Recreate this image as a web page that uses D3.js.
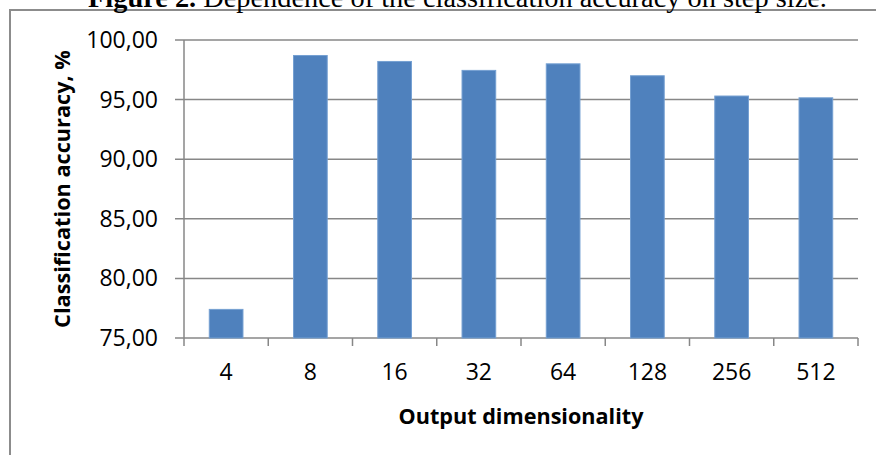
<!DOCTYPE html>
<html>
<head>
<meta charset="utf-8">
<script src="https://cdn.jsdelivr.net/npm/d3@7"></script>
<style>
  html, body { margin: 0; padding: 0; background: #fff; }
  svg { display: block; }
</style>
</head>
<body>
<div id="chart"></div>
<script>
// Chart data
const categories = ["4", "8", "16", "32", "64", "128", "256", "512"];
const accuracy = [77.4, 98.7, 98.2, 97.45, 98.0, 97.0, 95.3, 95.15];
const yTicks = [75, 80, 85, 90, 95, 100];

const titleBold = "Figure 2.";
const titleRest = " Dependence of the classification accuracy on step size.";
const xTitle = "Output dimensionality";
const yTitle = "Classification accuracy, %";

const width = 876, height = 455;
const plot = { left: 184, right: 858, top: 40, bottom: 338 };
const GRID = "#878787";
const BAR = "#4f81bd";
const LABEL_FONT = "'Open Sans', 'DejaVu Sans', sans-serif";

const svg = d3.select("#chart").append("svg")
    .attr("width", width)
    .attr("height", height);

svg.append("rect").attr("width", width).attr("height", height).attr("fill", "#fff");

// Outer chart frame (runs off the right and bottom edge in the source).
svg.append("rect")
    .attr("x", 10).attr("y", 10)
    .attr("width", 1000).attr("height", 1000)
    .attr("fill", "none")
    .attr("stroke", "#8c8c8c")
    .attr("stroke-width", 2);

// Figure caption, cropped at the top of the picture like the source.
const title = svg.append("text")
    .attr("x", 88).attr("y", 7)
    .attr("font-family", "'Liberation Serif', 'Times New Roman', serif")
    .attr("font-size", 24)
    .attr("fill", "#000");
title.append("tspan").attr("font-weight", "bold").text(titleBold);
title.append("tspan").text(titleRest);
// fit caption to its width in the source
const tw = title.node().getComputedTextLength();
title.attr("font-size", 24 * 739 / tw);

const x = d3.scaleBand()
    .domain(categories)
    .range([plot.left, plot.right])
    .paddingInner(0.6)
    .paddingOuter(0.3);

const y = d3.scaleLinear()
    .domain([75, 100])
    .range([plot.bottom, plot.top]);

// Horizontal gridlines + y ticks
svg.append("g")
    .selectAll("line")
    .data(yTicks)
    .join("line")
    .attr("x1", plot.left - 9)
    .attr("x2", plot.right)
    .attr("y1", d => y(d))
    .attr("y2", d => y(d))
    .attr("stroke", GRID)
    .attr("stroke-width", 1.5);

// Y axis line
svg.append("line")
    .attr("x1", plot.left).attr("x2", plot.left)
    .attr("y1", plot.top).attr("y2", plot.bottom)
    .attr("stroke", GRID)
    .attr("stroke-width", 1.5);

// Category boundary ticks on the x axis
const step = x.step();
const boundaries = categories.map(c => x(c) - step * x.paddingInner() / 2)
    .concat([plot.right]);
svg.append("g")
    .selectAll("line")
    .data(boundaries)
    .join("line")
    .attr("x1", d => d).attr("x2", d => d)
    .attr("y1", plot.bottom).attr("y2", plot.bottom + 8)
    .attr("stroke", GRID)
    .attr("stroke-width", 1.5);

// Bars
svg.append("g")
    .selectAll("rect")
    .data(categories)
    .join("rect")
    .attr("x", c => x(c))
    .attr("width", x.bandwidth())
    .attr("y", (c, i) => y(accuracy[i]))
    .attr("height", (c, i) => y(75) - y(accuracy[i]))
    .attr("fill", BAR)
    .attr("stroke", "#75a0d2")
    .attr("stroke-width", 1);

// Y tick labels
svg.append("g")
    .selectAll("text")
    .data(yTicks)
    .join("text")
    .attr("x", 158)
    .attr("y", d => y(d))
    .attr("dy", "0.35em")
    .attr("text-anchor", "end")
    .attr("font-family", LABEL_FONT)
    .attr("font-size", 23)
    .attr("fill", "#000")
    .text(d => d3.format(".2f")(d).replace(".", ","));

// X tick labels
svg.append("g")
    .selectAll("text")
    .data(categories)
    .join("text")
    .attr("x", c => x(c) + x.bandwidth() / 2)
    .attr("y", 372)
    .attr("dy", "0.35em")
    .attr("text-anchor", "middle")
    .attr("font-family", LABEL_FONT)
    .attr("font-size", 23)
    .attr("fill", "#000")
    .text(c => c);

// Axis titles
const xt = svg.append("text")
    .attr("x", (plot.left + plot.right) / 2)
    .attr("y", 416)
    .attr("dy", "0.35em")
    .attr("text-anchor", "middle")
    .attr("font-family", LABEL_FONT)
    .attr("font-weight", "bold")
    .attr("font-size", 20)
    .attr("fill", "#000")
    .text(xTitle);
xt.attr("font-size", 20 * 245 / xt.node().getComputedTextLength());

const yt = svg.append("text")
    .attr("transform", "translate(62,189) rotate(-90)")
    .attr("dy", "0.35em")
    .attr("text-anchor", "middle")
    .attr("font-family", LABEL_FONT)
    .attr("font-weight", "bold")
    .attr("font-size", 20)
    .attr("fill", "#000")
    .text(yTitle);
yt.attr("font-size", 20 * 278 / yt.node().getComputedTextLength());
</script>
</body>
</html>
